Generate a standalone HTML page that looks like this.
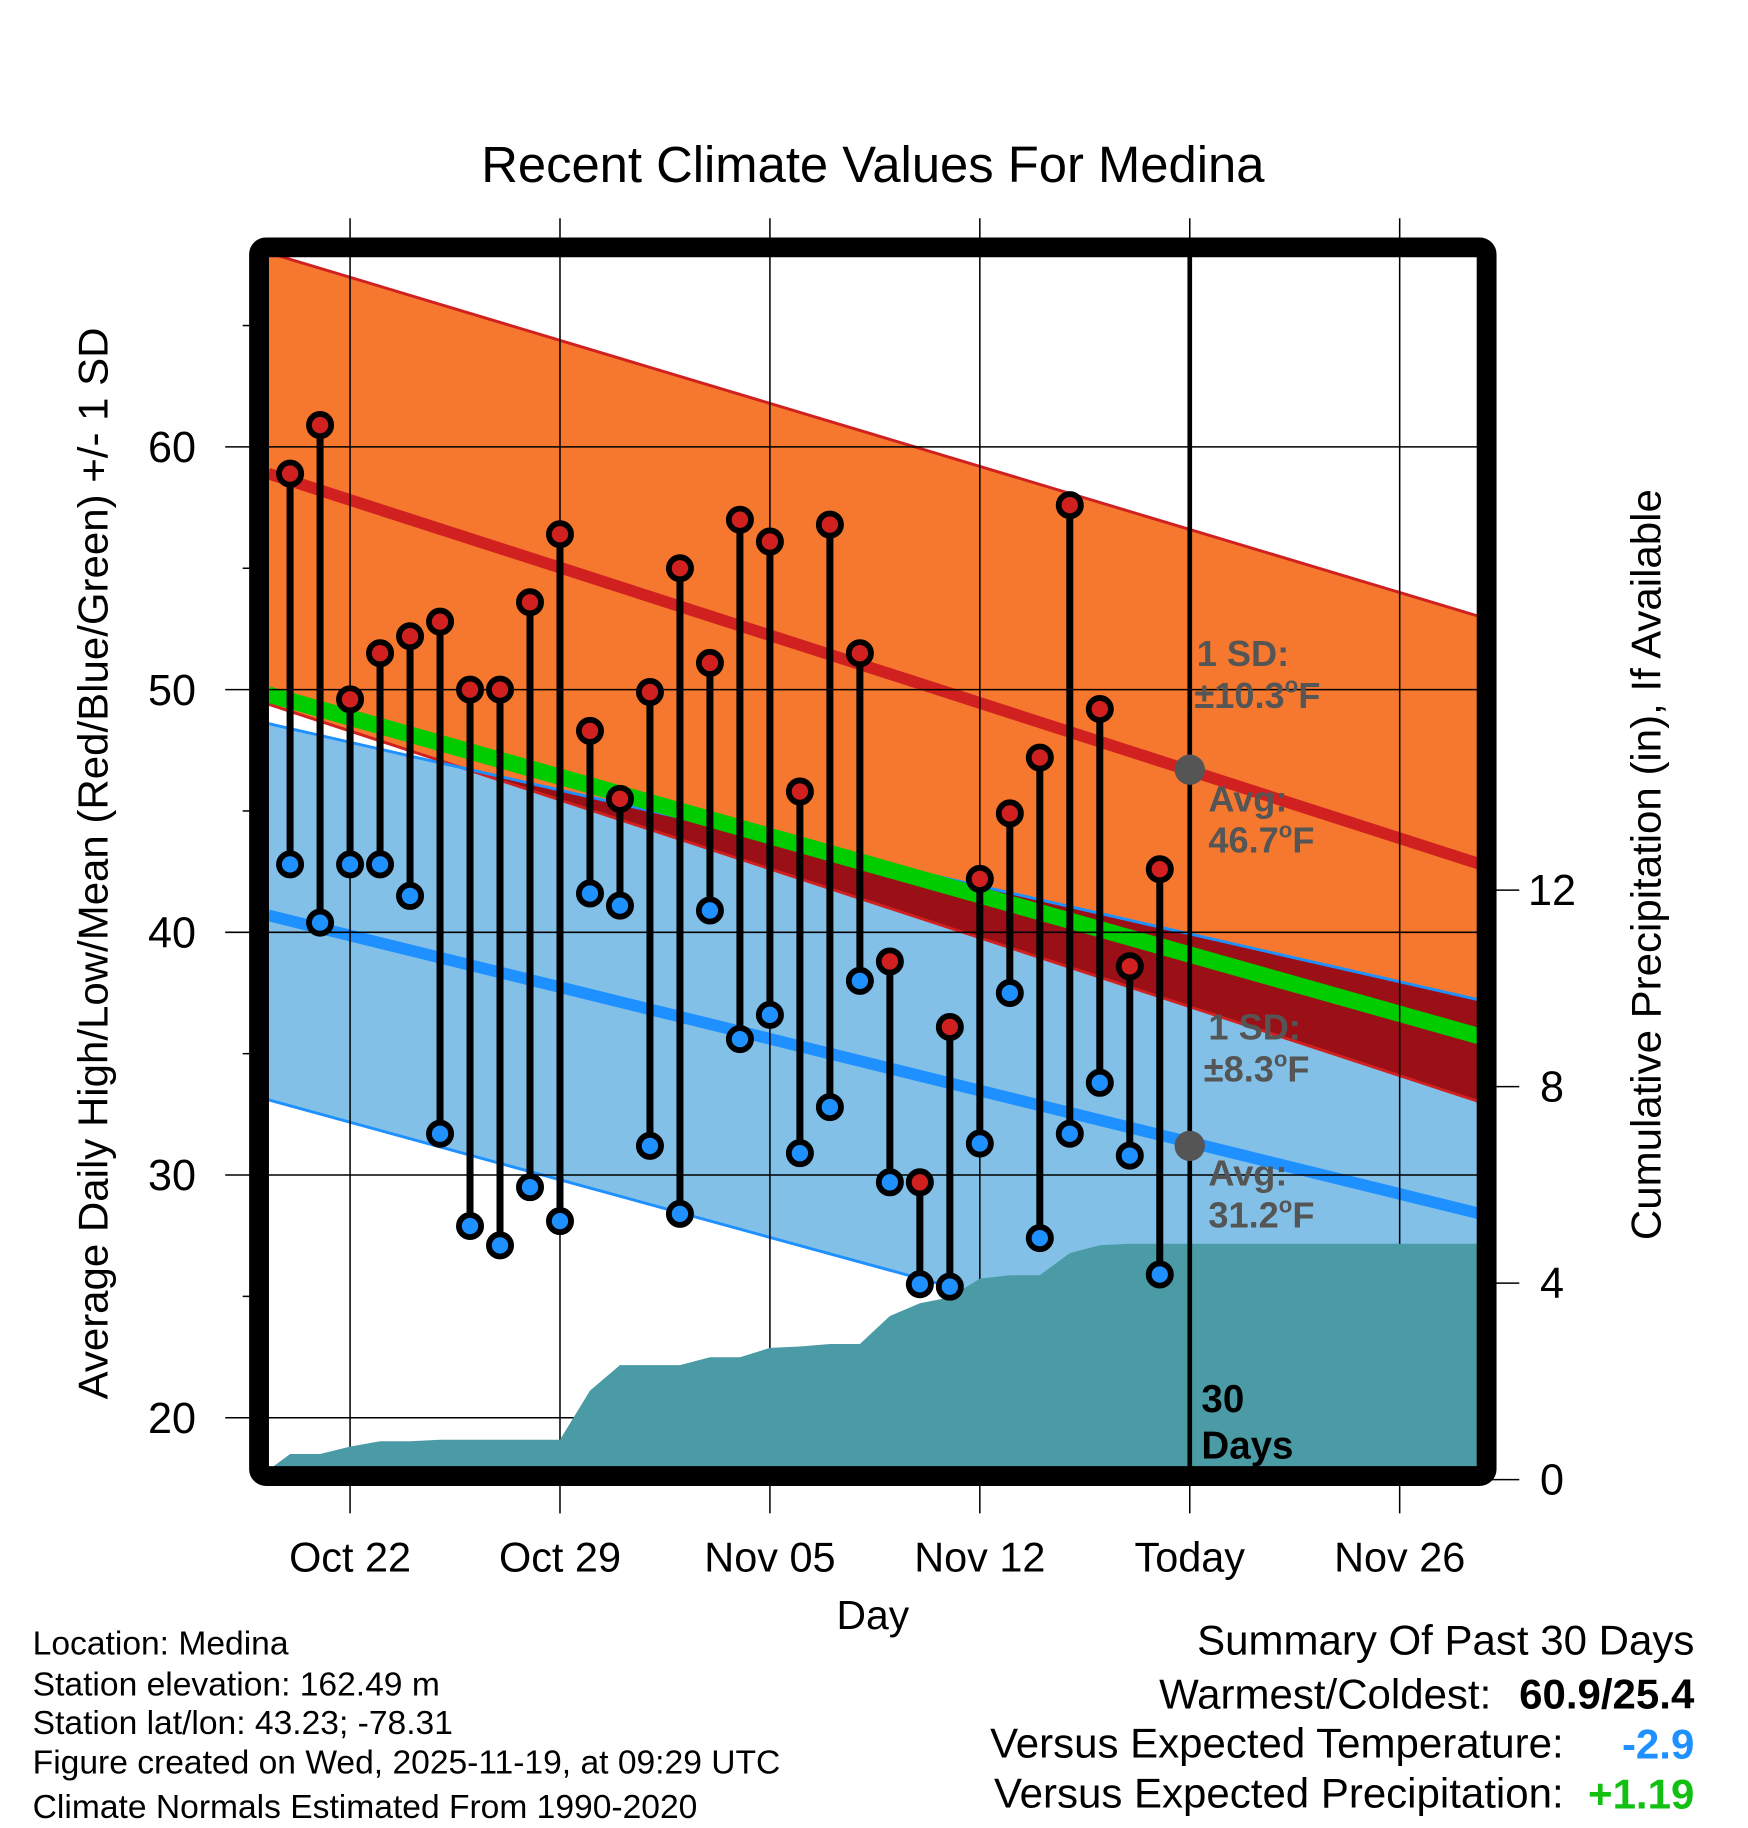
<!DOCTYPE html>
<html><head><meta charset="utf-8"><style>
html,body{margin:0;padding:0;background:#fff}
svg{display:block}
text{font-family:"Liberation Sans",sans-serif}
</style></head><body>
<svg id="chart" width="1748" height="1828" viewBox="0 0 1498 1566.6" preserveAspectRatio="none" xmlns="http://www.w3.org/2000/svg">
<defs><clipPath id="plotclip"><rect x="230" y="220" width="1038" height="1040"/></clipPath></defs>
<g id="fills" clip-path="url(#plotclip)"></g>
<g id="grid"></g>
<g id="precip" clip-path="url(#plotclip)"></g>
<g id="annot"></g>
<g id="marks"></g>
<rect x="222" y="212" width="1052" height="1053" rx="6" fill="none" stroke="#000" stroke-width="17"/>
<g id="axes"></g>
<text x="748" y="156" font-size="43.5" text-anchor="middle">Recent Climate Values For Medina</text>
<text transform="translate(92,740) rotate(-90)" font-size="36" text-anchor="middle">Average Daily High/Low/Mean (Red/Blue/Green) +/- 1 SD</text>
<text transform="translate(1423,741) rotate(-90)" font-size="36" text-anchor="middle">Cumulative Precipitation (in), If Available</text>
<text x="748" y="1396" font-size="35" text-anchor="middle">Day</text>
<g font-size="28.8">
<text x="28" y="1418">Location: Medina</text>
<text x="28" y="1453">Station elevation: 162.49 m</text>
<text x="28" y="1486">Station lat/lon: 43.23; -78.31</text>
<text x="28" y="1520">Figure created on Wed, 2025-11-19, at 09:29 UTC</text>
<text x="28" y="1558">Climate Normals Estimated From 1990-2020</text>
</g>
<g font-size="36" text-anchor="end">
<text x="1452" y="1418">Summary Of Past 30 Days</text>
<text x="1278" y="1464">Warmest/Coldest:</text>
<text x="1452" y="1464" font-weight="bold">60.9/25.4</text>
<text x="1340" y="1506">Versus Expected Temperature:</text>
<text x="1452" y="1507" font-weight="bold" fill="#1e90ff">-2.9</text>
<text x="1340" y="1549">Versus Expected Precipitation:</text>
<text x="1452" y="1550" font-weight="bold" fill="#11c011">+1.19</text>
</g>
<script>
// ---- data ----
const days = [-2,-1,0,1,2,3,4,5,6,7,8,9,10,11,12,13,14,15,16,17,18,19,20,21,22,23,24,25,26,27];
const highs = [58.9,60.9,49.6,51.5,52.2,52.8,50.0,50.0,53.6,56.4,48.3,45.5,49.9,55.0,51.1,57.0,56.1,45.8,56.8,51.5,38.8,29.7,36.1,42.2,44.9,47.2,57.6,49.2,38.6,42.6];
const lows = [42.8,40.4,42.8,42.8,41.5,31.7,27.9,27.1,29.5,28.1,41.6,41.1,31.2,28.4,40.9,35.6,36.6,30.9,32.8,38.0,29.7,25.5,25.4,31.3,37.5,27.4,31.7,33.8,30.8,25.9];
const precipCum = [0.52,0.52,0.67,0.78,0.78,0.81,0.81,0.81,0.81,0.81,1.81,2.33,2.33,2.33,2.49,2.49,2.68,2.71,2.76,2.76,3.33,3.59,3.71,4.09,4.16,4.16,4.61,4.77,4.80,4.80];
const normDays = [-2.73, 37.7];
const normHighUpper = [68.0, 53.0];
const normHigh = [58.9, 42.8];
const normHighLower = [49.4, 33.0];
const normMean = [49.8, 35.7];
const normLowUpper = [48.6, 37.2];
const normLow = [40.7, 28.4];
const normLowLower = [33.1, 19.4];
const xTickDays = [0,7,14,21,28,35];
const xTickLabels = ["Oct 22","Oct 29","Nov 05","Nov 12","Today","Nov 26"];
const yTicks = [20,30,40,50,60];
const yMinor = [25,35,45,55,65];
const pTicks = [0,4,8,12];
const todayDay = 28;
const todayHigh = 46.7, todayLow = 31.2;
// ---- scales ----
const xd = d => 300 + 25.7*d;
const yT = t => 383 + (60 - t)*20.8;
const yP = p => 1268 - 42.1*p;
const NS='http://www.w3.org/2000/svg';
function mk(parent, tag, attrs){const e=document.createElementNS(NS,tag);for(const k in attrs)e.setAttribute(k,attrs[k]);parent.appendChild(e);return e;}
const fills=document.getElementById('fills'), grid=document.getElementById('grid'), prg=document.getElementById('precip'), marks=document.getElementById('marks'), axes=document.getElementById('axes'), annot=document.getElementById('annot');
function band(top, bot){
  return `${xd(normDays[0])},${yT(top[0])} ${xd(normDays[1])},${yT(top[1])} ${xd(normDays[1])},${yT(bot[1])} ${xd(normDays[0])},${yT(bot[0])}`;
}
let e;
e=mk(fills,'polygon',{points:band(normHighUpper,normHighLower),fill:'#f5782e'});


e=mk(fills,'polygon',{points:band(normLowUpper,normLowLower),fill:'#82c0e8'});


(function(){
  const dA=normLowUpper[0]-normHighLower[0], dB=normLowUpper[1]-normHighLower[1];
  const f = dA/(dA-dB);
  const dx = normDays[0]+f*(normDays[1]-normDays[0]);
  const tx = normLowUpper[0]+f*(normLowUpper[1]-normLowUpper[0]);
  const pts=`${xd(dx)},${yT(tx)} ${xd(normDays[1])},${yT(normLowUpper[1])} ${xd(normDays[1])},${yT(normHighLower[1])}`;
  e=mk(fills,'polygon',{points:pts,fill:'#9a1016'});
  
  
})();
function nline(arr,color,w,name){
  e=mk(fills,'line',{x1:xd(normDays[0]),y1:yT(arr[0]),x2:xd(normDays[1]),y2:yT(arr[1]),stroke:color,'stroke-width':w});
  
  
}
nline(normHighUpper,'#d02020',2.5,'high-upper-sd-line');
nline(normHighLower,'#d02020',2.5,'high-lower-sd-line');
nline(normLowUpper,'#1e90ff',2.5,'low-upper-sd-line');
nline(normLowLower,'#1e90ff',2.5,'low-lower-sd-line');
nline(normMean,'#00cc00',14,'mean-normal-line');
nline(normHigh,'#d02020',10,'high-normal-line');
nline(normLow,'#1e90ff',10,'low-normal-line');
xTickDays.forEach((d,i)=>{
  e=mk(grid,'line',{x1:xd(d),y1:187,x2:xd(d),y2:1297,stroke:'#000','stroke-width':1.3});
  
  
  e=mk(axes,'text',{x:xd(d),y:1347,'font-size':35.5,'text-anchor':'middle'});
  e.textContent=xTickLabels[i];
  
  
});
yTicks.forEach(t=>{
  e=mk(grid,'line',{x1:193,y1:yT(t),x2:1268,y2:yT(t),stroke:'#000','stroke-width':1.3});
  
  
  e=mk(axes,'text',{x:168,y:yT(t)+13,'font-size':37,'text-anchor':'end'});
  e.textContent=t;
  
  
});
yMinor.forEach(t=>{
  e=mk(axes,'line',{x1:208,y1:yT(t),x2:220,y2:yT(t),stroke:'#000','stroke-width':1.3});
  
  
});
pTicks.forEach(p=>{
  e=mk(axes,'line',{x1:1276,y1:yP(p),x2:1302,y2:yP(p),stroke:'#000','stroke-width':1.3});
  
  
  e=mk(axes,'text',{x:1330,y:yP(p)+13,'font-size':37,'text-anchor':'middle'});
  e.textContent=p;
  
  
});
(function(){
  let pts=`${xd(normDays[0])},${yP(0)} ${xd(normDays[0])},${yP(0.19)}`;
  days.forEach((d,i)=>{pts+=` ${xd(d)},${yP(precipCum[i])}`;});
  pts+=` ${xd(normDays[1])},${yP(precipCum[precipCum.length-1])} ${xd(normDays[1])},${yP(0)}`;
  e=mk(prg,'polygon',{points:pts,fill:'#4a9ba5'});
  
  
})();
e=mk(annot,'line',{x1:xd(todayDay),y1:220,x2:xd(todayDay),y2:1262,stroke:'#000','stroke-width':4});


[[todayHigh,'today-high-normal-dot'],[todayLow,'today-low-normal-dot']].forEach(([t,n])=>{
  e=mk(annot,'circle',{cx:xd(todayDay),cy:yT(t),r:13,fill:'#555'});
  
  
});
function lbl(x,y,txt,name,color,size,deg){
  e=mk(annot,'text',{x:x,y:y,'font-size':size||31,'font-weight':'bold',fill:color||'#555'});
  
  
  const t1=mk(e,'tspan',{});t1.textContent=txt;
  if(deg){
    const t2=mk(e,'tspan',{'font-size':19,dy:-13});t2.textContent='o';
    const t3=mk(e,'tspan',{dy:13});t3.textContent='F';
  }
}
const X0=xd(todayDay);
lbl(X0+6,yT(todayHigh)-89,'1 SD:','high-sd-label');
lbl(X0+4,yT(todayHigh)-53,'±10.3','high-sd-value',null,null,true);
lbl(X0+16,yT(todayHigh)+36,'Avg:','high-avg-label');
lbl(X0+16,yT(todayHigh)+71,'46.7','high-avg-value',null,null,true);
lbl(X0+16,yT(todayLow)-91,'1 SD:','low-sd-label');
lbl(X0+12,yT(todayLow)-55,'±8.3','low-sd-value',null,null,true);
lbl(X0+16,yT(todayLow)+34,'Avg:','low-avg-label');
lbl(X0+16,yT(todayLow)+70,'31.2','low-avg-value',null,null,true);
lbl(X0+10,1210,'30','days-count-label','#000',33);
lbl(X0+10,1250,'Days','days-label','#000',33);
days.forEach((d,i)=>{
  e=mk(marks,'line',{x1:xd(d),y1:yT(highs[i]),x2:xd(d),y2:yT(lows[i]),stroke:'#000','stroke-width':6});
  
  
});
days.forEach((d,i)=>{
  e=mk(marks,'circle',{cx:xd(d),cy:yT(highs[i]),r:9.5,fill:'#d02020',stroke:'#000','stroke-width':5});
  
  
  e=mk(marks,'circle',{cx:xd(d),cy:yT(lows[i]),r:9.5,fill:'#1e90ff',stroke:'#000','stroke-width':5});
  
  
});
</script>
</svg>
</body></html>
